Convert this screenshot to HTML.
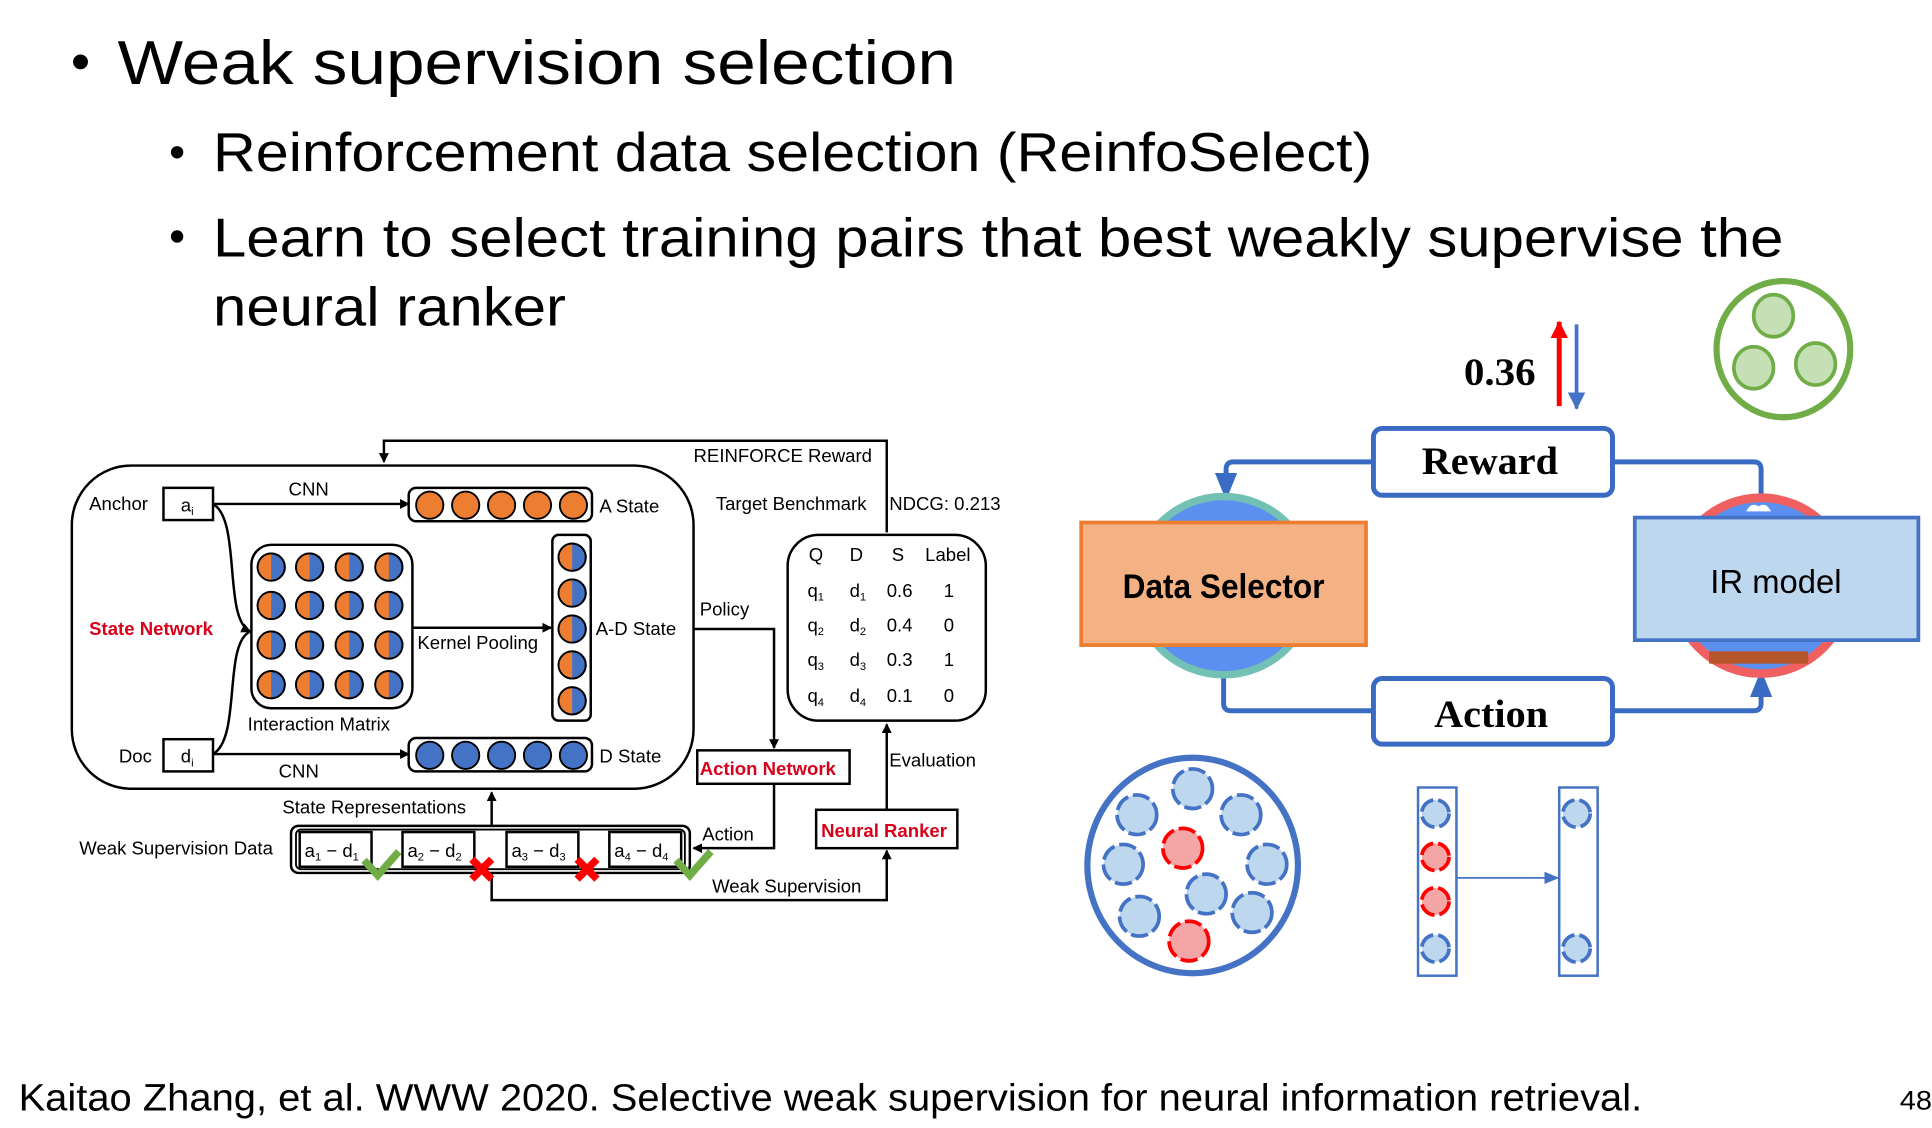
<!DOCTYPE html>
<html><head><meta charset="utf-8"><style>
html,body{margin:0;padding:0;background:#fff;width:1932px;height:1128px;overflow:hidden}
svg{display:block}
text{font-family:"Liberation Sans",sans-serif}
.s{font-family:"Liberation Sans",sans-serif;font-size:15px;fill:#000}
.serif{font-family:"Liberation Serif",serif;font-weight:bold}
</style></head><body>
<svg width="1932" height="1128" viewBox="0 0 1560 911" preserveAspectRatio="none" xmlns="http://www.w3.org/2000/svg">
<defs>
<marker id="ab" markerWidth="8" markerHeight="8" refX="7" refY="4" orient="auto" markerUnits="userSpaceOnUse"><path d="M0,0 L8,4 L0,8 z" fill="#000"/></marker>
<marker id="bb" markerWidth="22" markerHeight="18" refX="20" refY="9" orient="auto" markerUnits="userSpaceOnUse"><path d="M0,0 L22,9 L0,18 z" fill="#3a6bc4"/></marker>
<marker id="bs" markerWidth="12" markerHeight="10" refX="11" refY="5" orient="auto" markerUnits="userSpaceOnUse"><path d="M0,0 L12,5 L0,10 z" fill="#4472c4"/></marker>
<marker id="rb" markerWidth="14" markerHeight="14" refX="13" refY="7" orient="auto" markerUnits="userSpaceOnUse"><path d="M0,0 L14,7 L0,14 z" fill="#f00"/></marker>
<marker id="bl" markerWidth="14" markerHeight="14" refX="13" refY="7" orient="auto" markerUnits="userSpaceOnUse"><path d="M0,0 L14,7 L0,14 z" fill="#4472c4"/></marker>
<clipPath id="hl"><rect x="-20" y="-20" width="20" height="40"/></clipPath>
<g id="half"><circle r="11" fill="#4472c4" stroke="#000" stroke-width="1.5"/><circle r="11" fill="#ed7d31" clip-path="url(#hl)"/><circle r="11" fill="none" stroke="#000" stroke-width="1.5"/></g>
</defs>

<!-- Title text -->
<circle cx="65" cy="50" r="6" fill="#000"/>
<text x="95" y="68" font-size="50" textLength="677" lengthAdjust="spacingAndGlyphs">Weak supervision selection</text>
<circle cx="143" cy="123" r="5" fill="#000"/>
<text x="172" y="138" font-size="44" textLength="936" lengthAdjust="spacingAndGlyphs">Reinforcement data selection (ReinfoSelect)</text>
<circle cx="143" cy="191" r="5" fill="#000"/>
<text x="172" y="207" font-size="44" textLength="1268" lengthAdjust="spacingAndGlyphs">Learn to select training pairs that best weakly supervise the</text>
<text x="172" y="263" font-size="44" textLength="285" lengthAdjust="spacingAndGlyphs">neural ranker</text>
<text x="15" y="897" font-size="31" textLength="1311" lengthAdjust="spacingAndGlyphs">Kaitao Zhang, et al. WWW 2020. Selective weak supervision for neural information retrieval.</text>
<text x="1534" y="896" font-size="22" textLength="26" lengthAdjust="spacingAndGlyphs">48</text>

<!-- Left diagram -->
<g fill="none" stroke="#000" stroke-width="2">
<rect x="58" y="376" width="502" height="261" rx="48"/>
<path d="M716,430 V356 H310 V373" marker-end="url(#ab)"/>
<rect x="132" y="394" width="40" height="26"/>
<rect x="132" y="597" width="40" height="26"/>
<path d="M172,407 H330" marker-end="url(#ab)"/>
<path d="M172,609 H330" marker-end="url(#ab)"/>
<path d="M172,407 C195,420 180,500 202,510" marker-end="url(#ab)"/>
<path d="M172,609 C195,596 180,520 202,510"/>
<rect x="330" y="394" width="148" height="27" rx="6"/>
<rect x="330" y="596" width="148" height="27" rx="6"/>
<rect x="203" y="440" width="130" height="132" rx="16"/>
<rect x="446" y="432" width="31" height="150" rx="5"/>
<path d="M333,507 H445" marker-end="url(#ab)"/>
<path d="M560,508 H625 V604" marker-end="url(#ab)"/>
<path d="M625,633 V685 H560" marker-end="url(#ab)"/>
<rect x="636" y="432" width="160" height="150" rx="25"/>
<path d="M716,655 V585" marker-end="url(#ab)"/>
<path d="M397,705 V727 H716 V687" marker-end="url(#ab)"/>
<path d="M397,667 V640" marker-end="url(#ab)"/>
<rect x="235" y="667" width="322" height="38" rx="6"/>
<rect x="239" y="670" width="314" height="32" rx="4" stroke-width="1.5"/>
<rect x="242" y="672" width="58" height="28"/>
<rect x="325" y="672" width="58" height="28"/>
<rect x="409" y="672" width="58" height="28"/>
<rect x="492" y="672" width="58" height="28"/>
</g>
<rect x="563" y="606" width="123" height="27" fill="#fff" stroke="#000" stroke-width="2"/>
<rect x="659" y="654" width="114" height="31" fill="#fff" stroke="#000" stroke-width="2"/>
<g fill="#ed7d31" stroke="#000" stroke-width="1.5">
<circle cx="347" cy="408" r="11"/><circle cx="376" cy="408" r="11"/><circle cx="405" cy="408" r="11"/><circle cx="434" cy="408" r="11"/><circle cx="463" cy="408" r="11"/>
</g>
<g fill="#4472c4" stroke="#000" stroke-width="1.5">
<circle cx="347" cy="610" r="11"/><circle cx="376" cy="610" r="11"/><circle cx="405" cy="610" r="11"/><circle cx="434" cy="610" r="11"/><circle cx="463" cy="610" r="11"/>
</g>
<g>
<use href="#half" x="219" y="458"/><use href="#half" x="250" y="458"/><use href="#half" x="282" y="458"/><use href="#half" x="314" y="458"/>
<use href="#half" x="219" y="489"/><use href="#half" x="250" y="489"/><use href="#half" x="282" y="489"/><use href="#half" x="314" y="489"/>
<use href="#half" x="219" y="521"/><use href="#half" x="250" y="521"/><use href="#half" x="282" y="521"/><use href="#half" x="314" y="521"/>
<use href="#half" x="219" y="553"/><use href="#half" x="250" y="553"/><use href="#half" x="282" y="553"/><use href="#half" x="314" y="553"/>
<use href="#half" x="462" y="450"/><use href="#half" x="462" y="479"/><use href="#half" x="462" y="508"/><use href="#half" x="462" y="537"/><use href="#half" x="462" y="566"/>
</g>
<g class="s">
<text x="560" y="373" class="s">REINFORCE  Reward</text>
<text x="72" y="412" class="s">Anchor</text>
<text x="146" y="413" class="s">a<tspan font-size="9" dy="3">i</tspan></text>
<text x="233" y="400" class="s">CNN</text>
<text x="484" y="414" class="s">A State</text>
<text x="578" y="412" class="s">Target Benchmark</text>
<text x="718" y="412" class="s">NDCG: 0.213</text>
<text x="72" y="513" class="s" fill="#e0001b" font-weight="bold" style="fill:#d9001b">State Network</text>
<text x="337" y="524" class="s">Kernel Pooling</text>
<text x="481" y="513" class="s">A-D State</text>
<text x="565" y="497" class="s">Policy</text>
<text x="200" y="590" class="s">Interaction Matrix</text>
<text x="96" y="616" class="s">Doc</text>
<text x="146" y="616" class="s">d<tspan font-size="9" dy="3">i</tspan></text>
<text x="225" y="628" class="s">CNN</text>
<text x="484" y="616" class="s">D State</text>
<text x="565" y="626" class="s" font-weight="bold" style="fill:#d9001b">Action Network</text>
<text x="718" y="619" class="s">Evaluation</text>
<text x="663" y="676" class="s" font-weight="bold" style="fill:#d9001b">Neural Ranker</text>
<text x="228" y="657" class="s">State Representations</text>
<text x="567" y="679" class="s">Action</text>
<text x="64" y="690" class="s">Weak Supervision Data</text>
<text x="575" y="721" class="s">Weak Supervision</text>
<text x="653" y="453" class="s">Q</text><text x="686" y="453" class="s">D</text><text x="720" y="453" class="s">S</text><text x="747" y="453" class="s">Label</text>
<text x="652" y="482" class="s">q<tspan font-size="9" dy="3">1</tspan></text><text x="686" y="482" class="s">d<tspan font-size="9" dy="3">1</tspan></text><text x="716" y="482" class="s">0.6</text><text x="762" y="482" class="s">1</text>
<text x="652" y="510" class="s">q<tspan font-size="9" dy="3">2</tspan></text><text x="686" y="510" class="s">d<tspan font-size="9" dy="3">2</tspan></text><text x="716" y="510" class="s">0.4</text><text x="762" y="510" class="s">0</text>
<text x="652" y="538" class="s">q<tspan font-size="9" dy="3">3</tspan></text><text x="686" y="538" class="s">d<tspan font-size="9" dy="3">3</tspan></text><text x="716" y="538" class="s">0.3</text><text x="762" y="538" class="s">1</text>
<text x="652" y="567" class="s">q<tspan font-size="9" dy="3">4</tspan></text><text x="686" y="567" class="s">d<tspan font-size="9" dy="3">4</tspan></text><text x="716" y="567" class="s">0.1</text><text x="762" y="567" class="s">0</text>
<text x="246" y="692" class="s">a<tspan font-size="9" dy="3">1</tspan><tspan dy="-3"> − d</tspan><tspan font-size="9" dy="3">1</tspan></text>
<text x="329" y="692" class="s">a<tspan font-size="9" dy="3">2</tspan><tspan dy="-3"> − d</tspan><tspan font-size="9" dy="3">2</tspan></text>
<text x="413" y="692" class="s">a<tspan font-size="9" dy="3">3</tspan><tspan dy="-3"> − d</tspan><tspan font-size="9" dy="3">3</tspan></text>
<text x="496" y="692" class="s">a<tspan font-size="9" dy="3">4</tspan><tspan dy="-3"> − d</tspan><tspan font-size="9" dy="3">4</tspan></text>
</g>
<g stroke="#70ad47" stroke-width="6" fill="none" stroke-linecap="square">
<path d="M296,697 L305,707 L320,690"/><path d="M548,697 L557,707 L572,690"/>
</g>
<g stroke="#f00" stroke-width="6">
<path d="M381,694 L397,710 M397,694 L381,710"/><path d="M466,694 L482,710 M482,694 L466,710"/>
</g>

<!-- Right diagram -->
<text x="1182" y="311" class="serif" font-size="32" textLength="58" lengthAdjust="spacingAndGlyphs">0.36</text>
<path d="M1259,328 V260" stroke="#f00" stroke-width="4" marker-end="url(#rb)"/>
<path d="M1273,262 V330" stroke="#4472c4" stroke-width="3" marker-end="url(#bl)"/>
<ellipse cx="1440" cy="282" rx="54" ry="55" fill="none" stroke="#70ad47" stroke-width="5"/>
<g fill="#c5e0b4" stroke="#70ad47" stroke-width="3">
<ellipse cx="1432" cy="255" rx="16" ry="17"/><ellipse cx="1416" cy="297" rx="16" ry="17"/><ellipse cx="1466" cy="294" rx="16" ry="17"/>
</g>
<g fill="none" stroke="#3a6bc4" stroke-width="4">
<path d="M1109,373 H996 Q990,373 990,379 V402" marker-end="url(#bb)"/>
<path d="M1302,373 H1416 Q1422,373 1422,379 V405"/>
<path d="M988,545 V568 Q988,574 994,574 H1109"/>
<path d="M1302,574 H1416 Q1422,574 1422,568 V543" marker-end="url(#bb)"/>
</g>
<circle cx="988" cy="473" r="72" fill="#5b8ff0" stroke="#72c1b4" stroke-width="6"/>
<circle cx="1422" cy="473" r="71" fill="#5b8ff0" stroke="#f06060" stroke-width="7"/>
<path d="M1410,413 q4,-8 10,-4 q6,-4 10,4 z" fill="#fff"/>
<rect x="1380" y="526" width="80" height="10" fill="#b5562a"/>
<rect x="873" y="422" width="230" height="99" fill="#f4b183" stroke="#ed7d31" stroke-width="3"/>
<text x="988" y="483" text-anchor="middle" font-size="28" font-weight="bold" textLength="163" lengthAdjust="spacingAndGlyphs">Data Selector</text>
<rect x="1320" y="418" width="229" height="99" fill="#bdd7ee" stroke="#4472c4" stroke-width="3"/>
<text x="1434" y="479" text-anchor="middle" font-size="27" textLength="106" lengthAdjust="spacingAndGlyphs">IR model</text>
<rect x="1109" y="346" width="193" height="54" rx="7" fill="#fff" stroke="#3a6bc4" stroke-width="4"/>
<text x="1203" y="383" text-anchor="middle" class="serif" font-size="32" textLength="110" lengthAdjust="spacingAndGlyphs">Reward</text>
<rect x="1109" y="548" width="193" height="53" rx="7" fill="#fff" stroke="#3a6bc4" stroke-width="4"/>
<text x="1204" y="587" text-anchor="middle" class="serif" font-size="32" textLength="92" lengthAdjust="spacingAndGlyphs">Action</text>

<ellipse cx="963" cy="699" rx="85" ry="87" fill="#fff" stroke="#4472c4" stroke-width="5"/>
<g fill="#bdd7ee" stroke="#4472c4" stroke-width="3" stroke-dasharray="14 4">
<circle cx="963" cy="637" r="16"/><circle cx="918" cy="658" r="16"/><circle cx="1002" cy="658" r="16"/>
<circle cx="907" cy="698" r="16"/><circle cx="1023" cy="698" r="16"/><circle cx="974" cy="722" r="16"/>
<circle cx="920" cy="740" r="16"/><circle cx="1011" cy="737" r="16"/>
<circle cx="1159" cy="657" r="11"/><circle cx="1159" cy="766" r="11"/><circle cx="1273" cy="657" r="11"/><circle cx="1273" cy="766" r="11"/>
</g>
<g fill="#f4a6a6" stroke="#f00" stroke-width="3" stroke-dasharray="14 4">
<circle cx="955" cy="685" r="16"/><circle cx="960" cy="760" r="16"/>
<circle cx="1159" cy="692" r="11"/><circle cx="1159" cy="728" r="11"/>
</g>
<rect x="1145" y="636" width="31" height="152" fill="none" stroke="#4472c4" stroke-width="2"/>
<rect x="1259" y="636" width="31" height="152" fill="none" stroke="#4472c4" stroke-width="2"/>
<path d="M1176,709 H1258" stroke="#4472c4" stroke-width="1.5" marker-end="url(#bs)"/>
</svg>
</body></html>
